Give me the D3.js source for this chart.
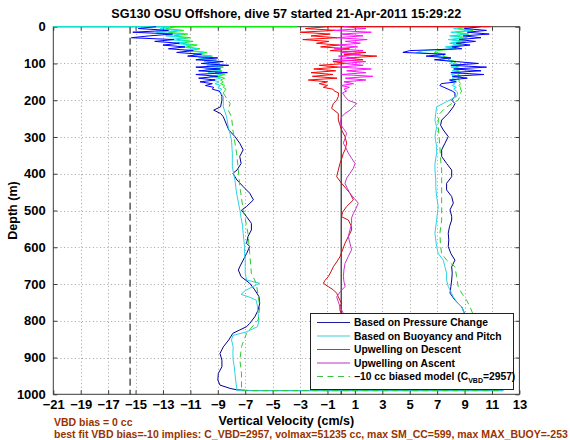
<!DOCTYPE html>
<html><head><meta charset="utf-8">
<script src="https://cdn.jsdelivr.net/npm/d3@7"></script>
<style>
body{margin:0;background:#fff}
svg{display:block}
text{font-family:"Liberation Sans",Arial,Helvetica,sans-serif;font-weight:bold}
</style>
</head><body>
<svg id="c" width="570" height="440"></svg>
<script>
// ---------------- DATA ----------------
const titleText = "SG130 OSU Offshore, dive 57 started 21-Apr-2011 15:29:22";
const xLabel = "Vertical Velocity (cm/s)";
const yLabel = "Depth (m)";
const noteLines = ["VBD bias = 0 cc",
  "best fit VBD bias=-10 implies: C_VBD=2957, volmax=51235 cc, max SM_CC=599, max MAX_BUOY=-253"];
const xTickValues = [-21,-19,-17,-15,-13,-11,-9,-7,-5,-3,-1,1,3,5,7,9,11,13];
const yTickValues = [0,100,200,300,400,500,600,700,800,900,1000];
const legendLabels = ["Based on Pressure Change","Based on Buoyancy and Pitch","Upwelling on Descent","Upwelling on Ascent"];
const legendModel = ["\u221210 cc biased model (C", "VBD", "=2957)"];
const stallLine = -15.4;   // dashed vertical
const zeroLine = 0;        // solid vertical

// shared depths (m) for the noisy near-surface part
const topDepth = [0,5,10,15,20,25,30,35,40,45,50,55,60,65,70,75,80,85,90,95,100,105,110,115,120,125,130,135,140,145,150,155,160,165,170,175,180];

// descent side (cm/s) near surface
const blueDescTop = [-13.5,-14.8,-12.6,-15.2,-12.3,-14.0,-15.3,-12.2,-13.6,-11.8,-13.0,-11.4,-12.6,-10.8,-12.0,-10.2,-11.2,-9.0,-10.6,-8.6,-10.2,-8.2,-10.6,-8.8,-10.4,-8.3,-10.6,-9.0,-10.4,-9.2,-10.3,-9.4,-9.9,-9.3,-9.4,-8.9,-8.8];
const cyanDescTop = [-12.5,-13.2,-11.8,-13.5,-11.6,-12.8,-11.3,-12.6,-11.0,-12.2,-10.9,-11.8,-10.5,-11.4,-10.0,-10.8,-9.5,-10.4,-9.2,-10.0,-9.0,-9.8,-8.8,-9.9,-8.9,-9.7,-8.7,-9.6,-8.8,-9.4,-8.9,-9.2,-8.8,-9.0,-8.7,-8.9,-8.8];
const greenDescTop = [-12.0,-12.8,-11.5,-12.6,-11.2,-12.2,-11.0,-12.0,-10.8,-11.7,-10.5,-11.3,-10.3,-11.0,-9.8,-10.5,-9.4,-10.2,-9.1,-9.8,-8.9,-9.5,-8.6,-9.3,-8.7,-9.2,-8.5,-9.0,-8.5,-8.8,-8.6,-8.8,-8.5,-8.6,-8.4,-8.5,-8.6];
// ascent side (cm/s) near surface
const blueAscTop = [10.2,9.0,10.6,9.2,10.8,8.9,10.2,8.6,9.8,8.4,9.4,8.1,8.8,5.0,4.5,7.6,6.2,8.0,6.8,8.4,10.0,8.0,10.6,8.2,10.2,8.0,10.4,8.1,9.2,7.9,8.4,7.3,7.2,7.5,7.8,8.1,8.3];
const cyanAscTop = [9.0,8.2,9.4,8.0,9.2,7.9,9.0,7.8,8.8,7.9,8.6,7.6,8.2,6.0,5.5,7.4,6.8,7.8,7.2,8.2,7.9,8.6,8.0,8.8,8.1,8.7,8.0,8.6,8.1,8.4,8.0,8.3,8.1,8.4,8.2,8.4,8.5];
const greenAscTop = [9.4,8.5,9.6,8.4,9.3,8.2,9.2,8.1,9.0,8.0,8.8,7.8,8.4,7.0,6.8,7.6,7.4,8.0,7.8,8.4,8.2,8.7,8.3,8.8,8.4,8.7,8.5,8.7,8.5,8.6,8.6,8.7,8.6,8.7,8.7,8.8,8.7];
// upwelling near surface
const redTop = [-1.0,-2.6,-0.4,-3.0,-0.8,-2.2,-0.3,-2.8,-0.9,-1.8,-0.2,-1.5,0.6,-0.8,1.8,0.2,2.6,0.4,1.6,-0.6,0.4,-1.6,-0.2,-2.0,-0.4,-2.2,-0.6,-2.1,-0.3,-2.4,-1.0,-1.6,-1.0,-1.3,-0.6,-0.5,-0.2];
const magentaTop = [0.2,1.8,-0.6,2.2,0.0,1.6,-0.4,1.9,0.3,1.4,-0.3,1.2,-0.5,1.6,0.0,1.4,-0.2,1.0,-0.6,1.8,0.2,1.6,-0.2,2.2,0.4,1.8,0.0,2.3,0.3,1.8,0.2,0.9,0.0,0.6,0.2,0.4,0.1];

// deeper parts: [depth m, velocity cm/s]
const blueDescLow = [[190,-8.7],[200,-8.7],[218,-8.8],[227,-9.3],[236,-8.8],[245,-8.6],[254,-8.5],[281,-8.2],[299,-7.75],[317,-7.4],[335,-7.15],[353,-7.4],[372,-7.3],[390,-7.6],[399,-7.9],[417,-7.6],[435,-7.15],[453,-6.67],[471,-6.4],[489,-6.9],[499,-7.27],[517,-6.9],[535,-6.55],[553,-6.55],[571,-6.8],[589,-6.9],[598,-6.67],[617,-6.9],[635,-7.15],[653,-7.4],[662,-7.5],[680,-7.3],[698,-6.67],[716,-6.3],[734,-6.0],[752,-5.94],[771,-6.06],[789,-6.3],[807,-6.67],[816,-6.9],[825,-7.4],[834,-7.9],[852,-8.2],[871,-8.6],[889,-8.84],[907,-8.7],[925,-8.7],[943,-8.96],[961,-9.0],[975,-8.84],[984,-8.1],[988,-7.6],[990,-6.5]];
const cyanDescLow = [[190,-8.6],[218,-8.6],[245,-8.36],[272,-8.24],[308,-8.0],[344,-7.94],[381,-7.94],[417,-7.75],[453,-7.63],[499,-7.39],[520,-7.3],[540,-7.2],[562,-7.15],[580,-7.1],[598,-7.05],[617,-7.05],[635,-7.0],[653,-7.0],[671,-7.0],[689,-6.9],[698,-5.95],[708,-6.5],[718,-7.0],[728,-7.3],[737,-6.6],[744,-6.2],[762,-6.1],[780,-6.06],[798,-6.0],[816,-6.1],[830,-6.9],[840,-7.9],[852,-8.0],[871,-7.88],[889,-7.9],[907,-7.88],[925,-7.8],[943,-7.75],[961,-7.7],[980,-7.63],[990,-7.6]];
const greenDescLow = [[181,-8.6],[209,-8.1],[227,-8.24],[245,-8.0],[281,-7.9],[344,-7.63],[390,-7.5],[435,-7.39],[499,-7.15],[517,-7.03],[562,-6.8],[617,-6.67],[671,-6.55],[698,-6.2],[730,-6.06],[762,-5.94],[798,-6.06],[834,-6.9],[870,-7.27],[907,-7.39],[943,-7.27],[990,-7.27]];
const blueAscLow = [[190,8.3],[200,8.06],[209,8.3],[218,8.18],[236,7.81],[254,7.33],[268,7.25],[281,7.45],[299,7.81],[317,7.57],[335,7.33],[353,7.33],[372,7.69],[390,8.06],[408,8.06],[426,7.69],[444,7.69],[462,8.06],[480,8.18],[498,7.94],[516,8.06],[526,8.06],[544,7.9],[562,7.81],[580,7.85],[598,7.81],[617,8.0],[635,8.3],[653,8.06],[671,8.1],[689,8.06],[707,8.0],[725,7.94],[744,8.3],[762,8.79],[780,9.0],[800,9.3],[830,9.6],[860,9.9],[890,10.2],[920,10.6],[950,11.0],[975,11.4],[990,11.8]];
const cyanAscLow = [[190,8.42],[204,7.69],[218,6.96],[236,6.9],[254,6.84],[272,6.96],[299,6.84],[326,6.96],[344,6.96],[372,6.84],[390,6.84],[417,6.9],[435,6.9],[462,6.96],[489,7.08],[526,6.96],[562,6.84],[598,6.96],[617,7.08],[635,7.45],[653,7.57],[671,7.69],[689,7.69],[707,7.81],[725,8.06],[735,8.18],[748,8.42],[762,8.79],[790,9.1],[830,9.5],[870,9.9],[910,10.4],[950,10.9],[990,11.8]];
const greenAscLow = [[190,8.66],[200,8.54],[209,8.06],[222,7.57],[236,7.2],[254,7.08],[272,7.08],[299,7.14],[326,7.2],[360,7.25],[390,7.33],[420,7.33],[453,7.33],[480,7.33],[508,7.33],[526,7.33],[562,7.2],[598,7.25],[617,7.33],[635,7.69],[653,8.3],[680,8.42],[707,8.54],[725,8.79],[744,9.15],[762,9.4],[790,9.7],[830,10.0],[870,10.3],[910,10.7],[950,11.1],[990,11.6]];
const redLow = [[190,-0.21],[200,-0.33],[209,-0.57],[222,-0.7],[236,-0.21],[254,-0.21],[281,0.03],[299,0.28],[317,0.4],[335,0.28],[344,0.16],[360,0.03],[372,-0.09],[390,-0.21],[408,-0.33],[426,0.03],[440,0.35],[453,0.64],[471,0.89],[489,0.4],[505,0.1],[517,0.03],[526,0.52],[544,0.76],[553,0.76],[571,0.52],[589,0.28],[607,0.1],[626,-0.09],[640,-0.33],[653,-0.57],[667,-0.75],[680,-0.94],[690,-1.18],[698,-1.3],[707,-0.94],[716,-0.57],[725,-0.33],[735,-0.21],[744,-0.09],[753,0.03],[762,-0.09],[771,-0.09],[790,0.1],[820,-0.2],[850,0.2],[880,0.0],[910,-0.3],[940,0.1],[970,0.0],[990,0.2]];
const magentaLow = [[190,0.28],[200,0.52],[209,1.13],[218,0.89],[227,0.64],[236,0.28],[245,0.03],[263,-0.09],[277,0.16],[290,0.4],[304,0.28],[317,0.16],[330,0.35],[344,0.52],[358,0.76],[372,1.01],[385,0.89],[399,0.64],[412,0.4],[426,0.28],[440,0.45],[453,0.64],[467,0.95],[480,1.25],[494,1.08],[508,0.89],[520,0.76],[535,0.76],[553,0.64],[571,0.52],[589,0.64],[607,0.76],[625,0.52],[644,0.28],[662,0.2],[680,0.16],[693,0.2],[707,0.28],[720,-0.05],[735,-0.33],[748,-0.21],[762,-0.09],[790,0.3],[820,0.6],[850,0.4],[880,0.7],[910,0.5],[940,0.6],[970,0.4],[990,0.5]];
// surface end segments (depth 0)
const cyanSurface = [[0,-21]];
const greenSurface = [[0,-21],[0,-3.2]];
const redSurface = [[0,10.9]];

// ---------------- DRAW ----------------
const svg = d3.select("#c");
const L = 53.3, R = 519.4, T = 26.7, B = 394.3;
const x = d3.scaleLinear().domain([-21,13]).range([L,R]);
const y = d3.scaleLinear().domain([0,1000]).range([T,B]);

// grid
const grid = svg.append("g").attr("stroke","#8a8a8a").attr("stroke-width",0.8).attr("stroke-dasharray","1,2.6");
grid.selectAll(".gx").data(xTickValues.slice(1,-1)).join("line")
  .attr("x1",d=>Math.round(x(d))+0.5).attr("x2",d=>Math.round(x(d))+0.5).attr("y1",T).attr("y2",B);
grid.selectAll(".gy").data(yTickValues.slice(1,-1)).join("line")
  .attr("y1",d=>Math.round(y(d))+0.5).attr("y2",d=>Math.round(y(d))+0.5).attr("x1",L).attr("x2",R);

// frame
svg.append("rect").attr("x",L).attr("y",T).attr("width",R-L).attr("height",B-T)
  .attr("fill","none").attr("stroke","#3a3a3a").attr("stroke-width",1);

// axes (ticks inward)
const fmt = d3.format("d");
const axB = svg.append("g").attr("transform",`translate(0,${B})`)
  .call(d3.axisBottom(x).tickValues(xTickValues).tickSizeInner(-4).tickSizeOuter(0).tickPadding(5.5).tickFormat(fmt));
const axT = svg.append("g").attr("transform",`translate(0,${T})`)
  .call(d3.axisTop(x).tickValues(xTickValues).tickSizeInner(-4).tickSizeOuter(0).tickFormat(""));
const axL = svg.append("g").attr("transform",`translate(${L},0)`)
  .call(d3.axisLeft(y).tickValues(yTickValues).tickSizeInner(-4).tickSizeOuter(0).tickPadding(7.5).tickFormat(fmt));
const axR = svg.append("g").attr("transform",`translate(${R},0)`)
  .call(d3.axisRight(y).tickValues(yTickValues).tickSizeInner(-4).tickSizeOuter(0).tickFormat(""));
[axB,axT,axL,axR].forEach(a=>{
  a.select(".domain").remove();
  a.selectAll(".tick line").attr("stroke","#3a3a3a");
  a.selectAll("text").attr("font-size",13).attr("fill","#000")
    .style("font-family",'"Liberation Sans",Arial,sans-serif').style("font-weight","bold");
});

// clip
svg.append("clipPath").attr("id","clip").append("rect")
  .attr("x",L-1).attr("y",T-1).attr("width",R-L+2).attr("height",B-T+2);
const plot = svg.append("g").attr("clip-path","url(#clip)");

// reference lines
plot.append("line").attr("x1",x(stallLine)).attr("x2",x(stallLine)).attr("y1",T).attr("y2",B)
  .attr("stroke","#000").attr("stroke-width",1).attr("stroke-dasharray","7,4");
plot.append("line").attr("x1",x(zeroLine)).attr("x2",x(zeroLine)).attr("y1",T).attr("y2",B)
  .attr("stroke","#000").attr("stroke-width",1);

const line = d3.line().x(d=>x(d[1])).y(d=>y(d[0]));
const pairs = arr => topDepth.map((d,i)=>[d,arr[i]]);
const draw = (pts,color,dash) => plot.append("path").attr("d",line(pts)).attr("fill","none")
  .attr("stroke",color).attr("stroke-width",1).attr("stroke-linejoin","round")
  .attr("stroke-dasharray",dash||null);

const C = {
  blueTop:"#0000ff", blue:"#00008c",
  cyanTop:"#10e4f0", cyan:"#2ed2e4",
  greenTop:"#10f010", green:"#2ec82e",
  redTop:"#ff0000", red:"#c81010",
  magTop:"#ff10ff", mag:"#c833c8"
};
const last = a => [180, a[a.length-1]];

// deeper profiles (descent -> bottom -> ascent)
draw([last(blueDescTop), ...blueDescLow, ...blueAscLow.slice().reverse(), last(blueAscTop)], C.blue);
draw([last(cyanDescTop), ...cyanDescLow, ...cyanAscLow.slice().reverse(), last(cyanAscTop)], C.cyan);
draw([last(redTop), ...redLow], C.red);
draw([last(magentaTop), ...magentaLow], C.mag);
draw([last(greenDescTop), ...greenDescLow, ...greenAscLow.slice().reverse(), last(greenAscTop)], C.green, "6,4");

// near-surface noisy parts
draw([...greenSurface, ...pairs(greenDescTop)], C.greenTop);
draw(pairs(greenAscTop), C.greenTop);
draw([...cyanSurface, ...pairs(cyanDescTop)], C.cyanTop);
draw(pairs(cyanAscTop), C.cyanTop);
draw(pairs(blueDescTop), C.blueTop);
draw(pairs(blueAscTop), C.blueTop);
draw([...redSurface, ...pairs(redTop)], C.redTop);
draw(pairs(magentaTop), C.magTop);

// legend
const lg = svg.append("g");
lg.append("rect").attr("x",310.5).attr("y",313.5).attr("width",203).attr("height",76)
  .attr("fill","#fff").attr("stroke","#222").attr("stroke-width",1);
const legColors = ["#1c1ca0","#3cd0e2","#d83030","#c030c0"];
const rowY = [322.5,336,349.5,363,376.5];
legendLabels.forEach((t,i)=>{
  lg.append("line").attr("x1",317).attr("x2",350).attr("y1",rowY[i]).attr("y2",rowY[i])
    .attr("stroke",legColors[i]).attr("stroke-width",1.2);
  lg.append("text").attr("x",354).attr("y",rowY[i]).attr("dy","0.35em").attr("font-size",10.3).text(t);
});
lg.append("line").attr("x1",317).attr("x2",350).attr("y1",rowY[4]).attr("y2",rowY[4])
  .attr("stroke","#40c040").attr("stroke-width",1.2).attr("stroke-dasharray","6,4.5");
const mt = lg.append("text").attr("x",354).attr("y",rowY[4]).attr("dy","0.35em").attr("font-size",10.3);
mt.append("tspan").text(legendModel[0]);
mt.append("tspan").attr("font-size",7).attr("dy","3").text(legendModel[1]);
mt.append("tspan").attr("dy","-3").text(legendModel[2]);

// titles & labels
svg.append("text").attr("x",(L+R)/2).attr("y",18).attr("text-anchor","middle").attr("font-size",12.6).text(titleText);
svg.append("text").attr("x",(L+R)/2).attr("y",424.5).attr("text-anchor","middle").attr("font-size",12.5).text(xLabel);
svg.append("text").attr("transform",`translate(17,${(T+B)/2}) rotate(-90)`).attr("text-anchor","middle").attr("font-size",12.5).text(yLabel);
svg.append("text").attr("x",54).attr("y",425.5).attr("font-size",10.5).attr("fill","#993300").text(noteLines[0]);
svg.append("text").attr("x",54).attr("y",437.5).attr("font-size",10.5).attr("fill","#993300").text(noteLines[1]);
</script>
</body></html>
